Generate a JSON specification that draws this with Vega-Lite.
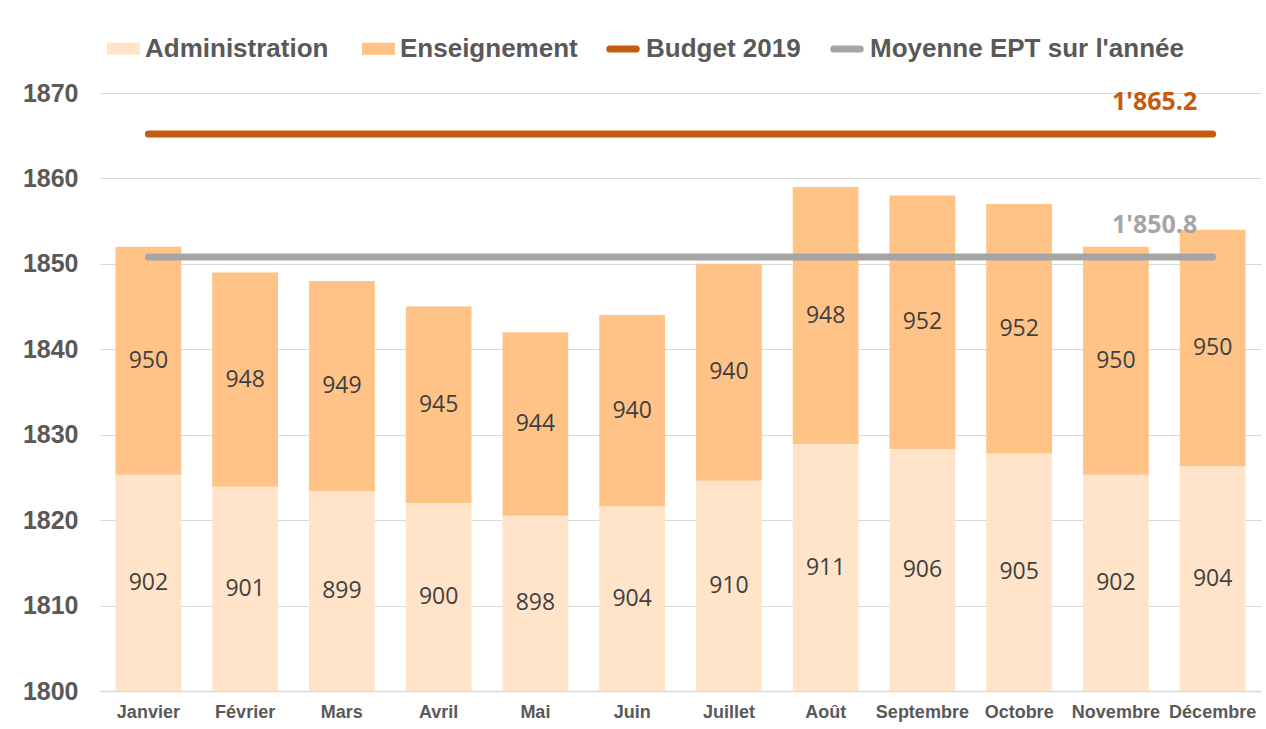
{
  "$schema": "https://vega.github.io/schema/vega-lite/v6.json",
  "width": 1161,
  "height": 598,
  "autosize": {"type": "none"},
  "padding": {"left": 100, "top": 93, "right": 5, "bottom": 38},
  "background": "white",
  "config": {"view": {"stroke": null}, "font": "Liberation Sans"},
  "datasets": {
    "mois": [
      {"mois": "Janvier", "admin": 902, "ens": 950, "limite": 1825.3, "total": 1852},
      {"mois": "Février", "admin": 901, "ens": 948, "limite": 1823.9, "total": 1849},
      {"mois": "Mars", "admin": 899, "ens": 949, "limite": 1823.4, "total": 1848},
      {"mois": "Avril", "admin": 900, "ens": 945, "limite": 1822.0, "total": 1845},
      {"mois": "Mai", "admin": 898, "ens": 944, "limite": 1820.5, "total": 1842},
      {"mois": "Juin", "admin": 904, "ens": 940, "limite": 1821.6, "total": 1844},
      {"mois": "Juillet", "admin": 910, "ens": 940, "limite": 1824.6, "total": 1850},
      {"mois": "Août", "admin": 911, "ens": 948, "limite": 1828.9, "total": 1859},
      {"mois": "Septembre", "admin": 906, "ens": 952, "limite": 1828.3, "total": 1858},
      {"mois": "Octobre", "admin": 905, "ens": 952, "limite": 1827.8, "total": 1857},
      {"mois": "Novembre", "admin": 902, "ens": 950, "limite": 1825.3, "total": 1852},
      {"mois": "Décembre", "admin": 904, "ens": 950, "limite": 1826.3, "total": 1854}
    ],
    "lignes": [
      {"serie": "Budget 2019", "valeur": 1865.2, "label": "1'865.2"},
      {"serie": "Moyenne EPT sur l'année", "valeur": 1850.8, "label": "1'850.8"}
    ]
  },
  "data": {"name": "mois"},
  "encoding": {
    "x": {
      "field": "mois",
      "type": "nominal",
      "sort": null,
      "scale": {"paddingInner": 0.32, "paddingOuter": 0.16},
      "axis": {
        "title": null,
        "labelAngle": 0,
        "ticks": false,
        "domainColor": "#D9D9D9",
        "domainWidth": 1.5,
        "labelFont": "Liberation Sans",
        "labelFontSize": 18,
        "labelFontWeight": "bold",
        "labelColor": "#595959",
        "labelPadding": 12
      }
    }
  },
  "layer": [
    {
      "mark": {"type": "bar"},
      "encoding": {
        "y": {
          "field": "limite",
          "type": "quantitative",
          "scale": {"domain": [1800, 1870], "zero": false, "nice": false},
          "axis": {
            "values": [1800, 1810, 1820, 1830, 1840, 1850, 1860, 1870],
            "format": "d",
            "title": null,
            "domain": false,
            "ticks": false,
            "labelFont": "Liberation Sans",
            "labelFontSize": 25,
            "labelFontWeight": "bold",
            "labelColor": "#595959",
            "labelPadding": 22,
            "gridColor": "#D9D9D9",
            "gridWidth": 1
          }
        },
        "y2": {"datum": 1800},
        "fill": {
          "datum": "Administration",
          "type": "nominal",
          "title": null,
          "scale": {
            "domain": ["Administration", "Enseignement"],
            "range": ["#FFE4CA", "#FFC388"]
          },
          "legend": {
            "orient": "none",
            "legendX": 7,
            "legendY": -61,
            "direction": "horizontal",
            "title": null,
            "labelFont": "Liberation Sans",
            "labelFontSize": 26,
            "labelFontWeight": "bold",
            "labelColor": "#595959",
            "labelLimit": 500,
            "symbolType": "M-1,-0.36H1V0.36H-1Z",
            "symbolSize": 1089,
            "symbolStrokeWidth": 0,
            "labelOffset": 5,
            "columnPadding": 33
          }
        }
      }
    },
    {
      "mark": {"type": "bar"},
      "encoding": {
        "y": {"field": "total", "type": "quantitative"},
        "y2": {"field": "limite"},
        "fill": {"datum": "Enseignement", "type": "nominal", "title": null}
      }
    },
    {
      "transform": [{"calculate": "(1800 + datum.limite) / 2", "as": "mid_a"}],
      "mark": {"type": "text", "font": "Open Sans", "fontSize": 23, "color": "#404040", "baseline": "middle"},
      "encoding": {
        "y": {"field": "mid_a", "type": "quantitative"},
        "text": {"field": "admin", "type": "nominal"}
      }
    },
    {
      "transform": [{"calculate": "(datum.limite + datum.total) / 2", "as": "mid_e"}],
      "mark": {"type": "text", "font": "Open Sans", "fontSize": 23, "color": "#404040", "baseline": "middle"},
      "encoding": {
        "y": {"field": "mid_e", "type": "quantitative"},
        "text": {"field": "ens", "type": "nominal"}
      }
    },
    {
      "data": {"name": "lignes"},
      "mark": {"type": "rule", "strokeWidth": 7, "strokeCap": "round"},
      "encoding": {
        "x": {"datum": "Janvier"},
        "x2": {"datum": "Décembre"},
        "y": {"field": "valeur", "type": "quantitative"},
        "stroke": {
          "field": "serie",
          "type": "nominal",
          "title": null,
          "scale": {
            "domain": ["Budget 2019", "Moyenne EPT sur l'année"],
            "range": ["#C55A11", "#A5A5A5"]
          },
          "legend": {
            "orient": "none",
            "legendX": 506,
            "legendY": -61,
            "direction": "horizontal",
            "title": null,
            "labelFont": "Liberation Sans",
            "labelFontSize": 26,
            "labelFontWeight": "bold",
            "labelColor": "#595959",
            "labelLimit": 500,
            "symbolType": "stroke",
            "symbolSize": 700,
            "symbolStrokeWidth": 7,
            "labelOffset": 6,
            "columnPadding": 18,
            "encode": {"symbols": {"update": {"strokeCap": {"value": "round"}}}}
          }
        }
      }
    },
    {
      "data": {"name": "lignes"},
      "mark": {"type": "text", "font": "Open Sans", "fontSize": 25, "fontWeight": "bold", "dx": -58, "dy": -24, "baseline": "alphabetic"},
      "encoding": {
        "x": {"datum": "Décembre"},
        "y": {"field": "valeur", "type": "quantitative"},
        "text": {"field": "label", "type": "nominal"},
        "color": {
          "field": "serie",
          "type": "nominal",
          "legend": null,
          "scale": {
            "domain": ["Budget 2019", "Moyenne EPT sur l'année"],
            "range": ["#C55A11", "#A5A5A5"]
          }
        }
      }
    }
  ]
}
